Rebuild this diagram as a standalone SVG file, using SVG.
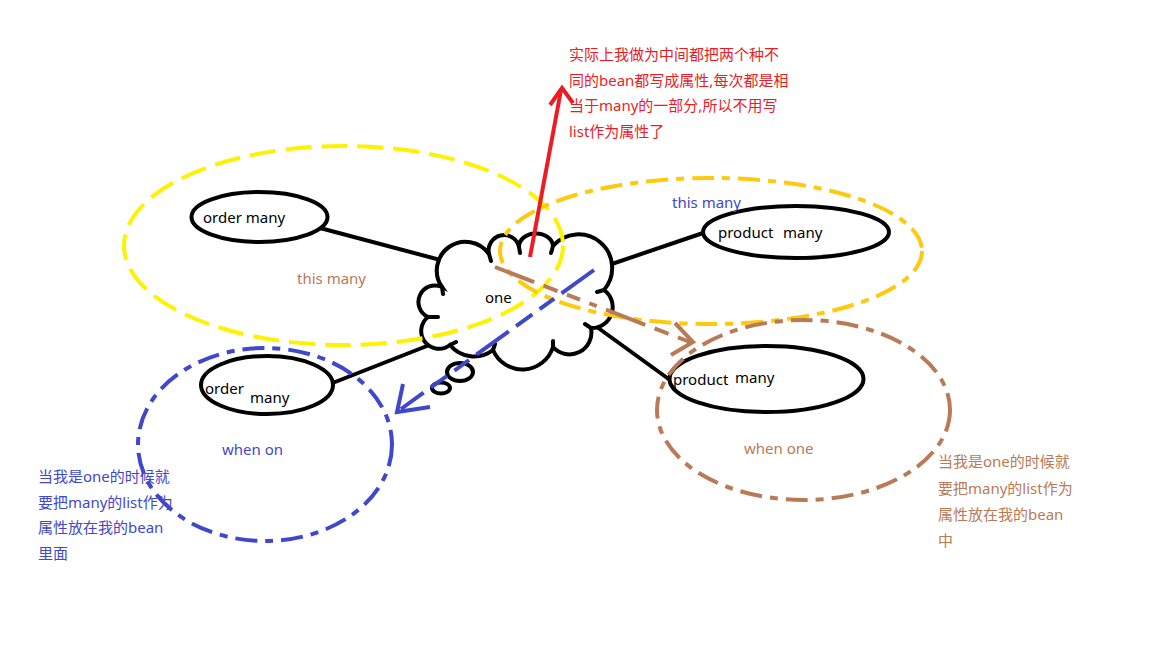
<svg xmlns="http://www.w3.org/2000/svg" width="1152" height="648" viewBox="0 0 1152 648">
<style>
text{font-family:"Noto Sans","Noto Sans CJK SC",sans-serif;font-size:15px}
.blk{fill:#000}
.node{fill:#fff;stroke:#000;stroke-width:4}
.edge{stroke:#000;stroke-width:4;fill:none}
.tick{stroke:#000;stroke-width:4;fill:none;stroke-linecap:round}
.grp{fill:none;stroke-width:4}
.yel{stroke:#FFF200;stroke-dasharray:26 10}
.org{stroke:#FFC90E;stroke-dasharray:22 8 8 8}
.blu{stroke:#3F48CC;stroke-dasharray:22 8 8 8}
.brn{stroke:#B97A57;stroke-dasharray:22 8 8 8}
.red{fill:#ED1C24}
.bluet{fill:#3F48CC}
.brnt{fill:#B97A57}
</style>
<rect width="1152" height="648" fill="#fff"/>
<g id="connectors">
<line class="edge" x1="320" y1="228" x2="448" y2="262"/>
<line class="edge" x1="600" y1="268" x2="706" y2="232"/>
<line class="edge" x1="432" y1="344" x2="330" y2="384"/>
<line class="edge" x1="590" y1="322" x2="670" y2="380"/>
</g>
<g id="node-order-many-top">
<ellipse class="node" cx="259.5" cy="217" rx="68" ry="25"/>
<text class="blk" x="203" y="223">order many</text>
</g>
<g id="node-product-many-top">
<ellipse class="node" cx="796" cy="232" rx="93" ry="26"/>
<text class="blk" y="238"><tspan x="718">product</tspan><tspan x="783">many</tspan></text>
</g>
<g id="node-order-many-bottom">
<ellipse class="node" cx="267" cy="385" rx="66" ry="29"/>
<text class="blk" x="205" y="394">order</text>
<text class="blk" x="250" y="403">many</text>
</g>
<g id="node-product-many-bottom">
<ellipse class="node" cx="766.5" cy="379" rx="97" ry="33"/>
<text class="blk" x="673" y="385">product</text>
<text class="blk" x="735" y="383">many</text>
</g>
<g id="node-one">
<path class="node" d="M442 287 A28 28 0 0 1 489 254 A15 15 0 0 1 519 247 A17 13 0 0 1 553 246 A33 33 0 0 1 604 290 A21 21 0 0 1 591 328 A22 22 0 0 1 553 347 A32 32 0 0 1 493 350 A31 31 0 0 1 450 345 A17 17 0 0 1 428 317 A16 16 0 0 1 442 287 Z"/>
<path class="tick" d="M442 287 L443 294 M489 254 L491 261 M519 247 L520 253 M553 246 L551 253 M604 290 L597 292 M591 328 L585 324 M553 347 L553 341 M493 350 L495 344 M450 345 L456 342 M428 317 L438 317"/>
<ellipse class="node" cx="460" cy="372" rx="13" ry="9"/>
<ellipse class="node" cx="441" cy="388" rx="9" ry="5.5"/>
<text class="blk" x="485" y="303">one</text>
</g>
<g id="groups">
<ellipse class="grp yel" cx="343.5" cy="245.5" rx="219.5" ry="99.5"/>
<ellipse class="grp org" cx="711" cy="251" rx="211" ry="73"/>
<ellipse class="grp blu" cx="265" cy="444.5" rx="127" ry="96.5"/>
<ellipse class="grp brn" cx="803.5" cy="410" rx="146.5" ry="90"/>
<text class="brnt" x="297" y="284">this many</text>
<text class="bluet" x="672" y="208">this many</text>
<text class="bluet" x="222" y="455">when on</text>
<text class="brnt" x="744" y="454">when one</text>
</g>
<g id="annotation-arrows">
<line x1="530" y1="257" x2="561" y2="90" stroke="#ED1C24" stroke-width="4"/>
<polyline points="550,105 562,88 573,103" fill="none" stroke="#ED1C24" stroke-width="4"/>
<line x1="594" y1="270" x2="401" y2="409" stroke="#3F48CC" stroke-width="4" stroke-dasharray="40 9 18 9 20 9"/>
<polyline points="403,384 397,412 430,407" fill="none" stroke="#3F48CC" stroke-width="4"/>
<line x1="495" y1="267" x2="690" y2="342" stroke="#B97A57" stroke-width="4" stroke-dasharray="42 10 15 10 14 10 8 10"/>
<polyline points="675,323 693,342 671,355" fill="none" stroke="#B97A57" stroke-width="4"/>
</g>
<g id="notes">
<text class="red" x="569"><tspan x="569" y="60">实际上我做为中间都把两个种不</tspan><tspan x="569" y="86">同的bean都写成属性,每次都是相</tspan><tspan x="569" y="111">当于many的一部分,所以不用写</tspan><tspan x="569" y="137">list作为属性了</tspan></text>
<text class="bluet"><tspan x="38" y="482">当我是one的时候就</tspan><tspan x="38" y="508">要把many的list作为</tspan><tspan x="38" y="533">属性放在我的bean</tspan><tspan x="38" y="559">里面</tspan></text>
<text class="brnt"><tspan x="938" y="467">当我是one的时候就</tspan><tspan x="938" y="494">要把many的list作为</tspan><tspan x="938" y="520">属性放在我的bean</tspan><tspan x="938" y="546">中</tspan></text>
</g>
</svg>
